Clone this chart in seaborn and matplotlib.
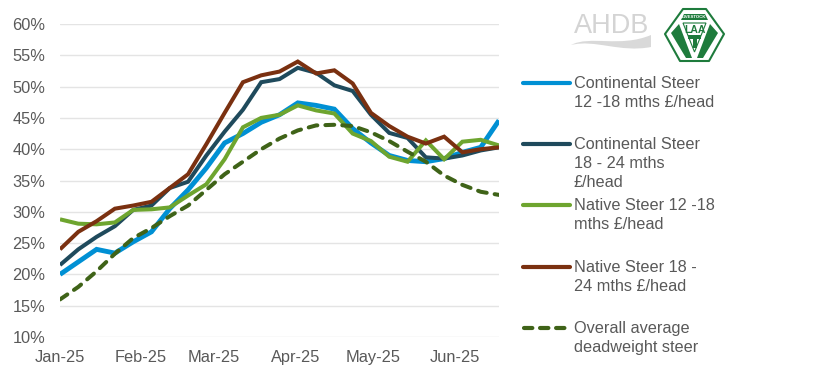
import numpy as np
import pandas as pd
import matplotlib
matplotlib.use("Agg")
import matplotlib.pyplot as plt
from matplotlib.patches import Polygon, PathPatch
from matplotlib.path import Path
from matplotlib.lines import Line2D
import seaborn as sns

WEEKS = pd.date_range("2025-01-01", periods=25, freq="7D")
continental_12_18 = [20, 22, 24, 23.4, 25.2, 26.8, 30.5, 33.5, 37, 41, 42.5, 44.3, 45.5, 47.4, 47, 46.4, 43.3, 41, 39, 38.2, 38, 38.5, 39.5, 40.3, 44.6]
continental_18_24 = [21.5, 24, 26, 27.7, 30.3, 31, 33.8, 34.8, 39, 42.8, 46.3, 50.7, 51.2, 53, 52.2, 50.2, 49.3, 45.5, 42.6, 41.8, 38.7, 38.5, 39, 39.8, 40.3]
native_12_18 = [28.8, 28.1, 28, 28.3, 30.3, 30.4, 30.7, 32.6, 34.4, 38.4, 43.5, 45, 45.5, 47, 46.2, 45.7, 42.5, 41.3, 38.8, 38, 41.4, 38.4, 41.2, 41.5, 40.6]
native_18_24 = [24, 26.8, 28.5, 30.5, 31, 31.6, 33.8, 36, 40.8, 45.8, 50.7, 51.8, 52.4, 54, 52.1, 52.6, 50.5, 45.8, 43.7, 42, 40.9, 42, 39.5, 40, 40.3]
overall_avg = [16, 18, 20.5, 23.3, 25.8, 27.4, 29.3, 31, 33.5, 36, 38, 40, 41.7, 43, 43.8, 43.9, 43.7, 42.7, 41.3, 39.6, 38, 35.8, 34.3, 33.2, 32.7]

labels = ["Continental Steer\n12 -18 mths £/head",
          "Continental Steer\n18 - 24 mths\n£/head",
          "Native Steer 12 -18\nmths £/head",
          "Native Steer 18 -\n24 mths £/head",
          "Overall average\ndeadweight steer"]
colors = ["#0090D4", "#1F4A5C", "#6EA52F", "#7A3010", "#3F6318"]
tick_dates = pd.to_datetime(["2025-01-01", "2025-02-01", "2025-03-01", "2025-04-01", "2025-05-01", "2025-06-01"])
tick_labels = ["Jan-25", "Feb-25", "Mar-25", "Apr-25", "May-25", "Jun-25"]
y_ticks = list(range(10, 61, 5))

sns.set_theme(style="white")
plt.rcParams["font.family"] = ["Liberation Sans", "DejaVu Sans"]
W, H = 839, 392
fig = plt.figure(figsize=(W / 100, H / 100), dpi=100, facecolor="white")
ax = fig.add_axes([60 / W, 1 - 337 / H, 439 / W, 313 / H])

series = [continental_12_18, continental_18_24, native_12_18, native_18_24, overall_avg]
df = pd.DataFrame({"date": np.tile(WEEKS, 5),
                   "value": np.concatenate(series),
                   "s": np.repeat(labels, 25)})
for lab, col in zip(labels, colors):
    sub = df[df.s == lab]
    dashed = lab == labels[-1]
    sns.lineplot(data=sub, x="date", y="value", ax=ax, color=col,
                 lw=3.5 if lab == labels[0] else 2.9,
                 linestyle=(0, (2.2, 2.0)) if dashed else "-", legend=False,
                 errorbar=None, solid_joinstyle="miter", solid_capstyle="butt",
                 dash_capstyle="round", zorder=3, clip_on=True)

ax.set_xlim(WEEKS[0], WEEKS[-1])
ax.set_ylim(10, 60)
ax.set_xlabel(""); ax.set_ylabel("")
ax.set_yticks(y_ticks, [f"{v}%" for v in y_ticks])
ax.set_xticks(tick_dates, tick_labels)
ax.grid(axis="y", color="#E4E4E4", lw=1)
ax.set_axisbelow(True)
for s in ax.spines.values():
    s.set_visible(False)
ax.tick_params(axis="both", length=0, labelsize=11.8, colors="#595959")
ax.tick_params(axis="x", pad=9.5)
ax.tick_params(axis="y", pad=10.5)

# legend, in pixel coordinates of the figure
ov = fig.add_axes([0, 0, 1, 1], facecolor="none")
ov.set_xlim(0, W); ov.set_ylim(H, 0); ov.axis("off")
legend_y = [83, 144, 205, 267, 328]
for y, lab, col, i in zip(legend_y, labels, colors, range(5)):
    ov.add_line(Line2D([523, 570] if i < 4 else [524, 566], [y, y], color=col, lw=3, solid_capstyle="round",
                       dash_capstyle="round",
                       linestyle=(0, (2.0, 1.85)) if i == 4 else "-"))
    ov.text(574, y - 7.5, lab, fontsize=11.7, color="#595959", va="top", ha="left", linespacing=1.37)

# AHDB mark
ov.text(574, 25.5, "AHDB", fontsize=19.5, color="#D4D4D4", va="center", ha="left")
sw = Path([(571, 45), (590, 35), (620, 48), (651, 35), (651, 47), (620, 53), (595, 39), (571, 45), (571, 45)],
          [Path.MOVETO, Path.CURVE4, Path.CURVE4, Path.CURVE4, Path.LINETO, Path.CURVE4, Path.CURVE4, Path.CURVE4, Path.CLOSEPOLY])
ov.add_patch(PathPatch(sw, fc="#D9D9D9", ec="none"))

# LAA mark
G = "#1E7B3C"
hexagon = [(683, 9), (706, 9), (724, 34), (709, 61), (680, 61), (665, 34)]
ov.add_patch(Polygon(hexagon, closed=True, fc="white", ec=G, lw=1.5, joinstyle="round"))
ov.add_patch(Polygon([(684, 14), (705, 14), (708, 20), (681, 20)], fc=G, ec="none"))
ov.text(694.5, 17.2, "LIVESTOCK", fontsize=3.2, fontweight="bold", color="white", ha="center", va="center")
ov.add_patch(Polygon([(671, 33), (679, 24), (692, 58), (686, 58)], fc=G, ec="none"))
ov.add_patch(Polygon([(718, 33), (710, 24), (697, 58), (703, 58)], fc=G, ec="none"))
ov.add_patch(Polygon([(683, 23), (706, 23), (694.5, 52)], fc="white", ec=G, lw=0.8))
ov.text(694.5, 29.5, "LAA", fontsize=7.5, fontweight="bold", color=G, ha="center", va="center")
ov.add_patch(Polygon([(688, 35), (701, 35), (701, 39), (696.5, 39), (696.5, 48), (692.5, 48), (692.5, 39), (688, 39)], fc=G, ec="none"))

fig.savefig("out.png", dpi=100, facecolor="white")
